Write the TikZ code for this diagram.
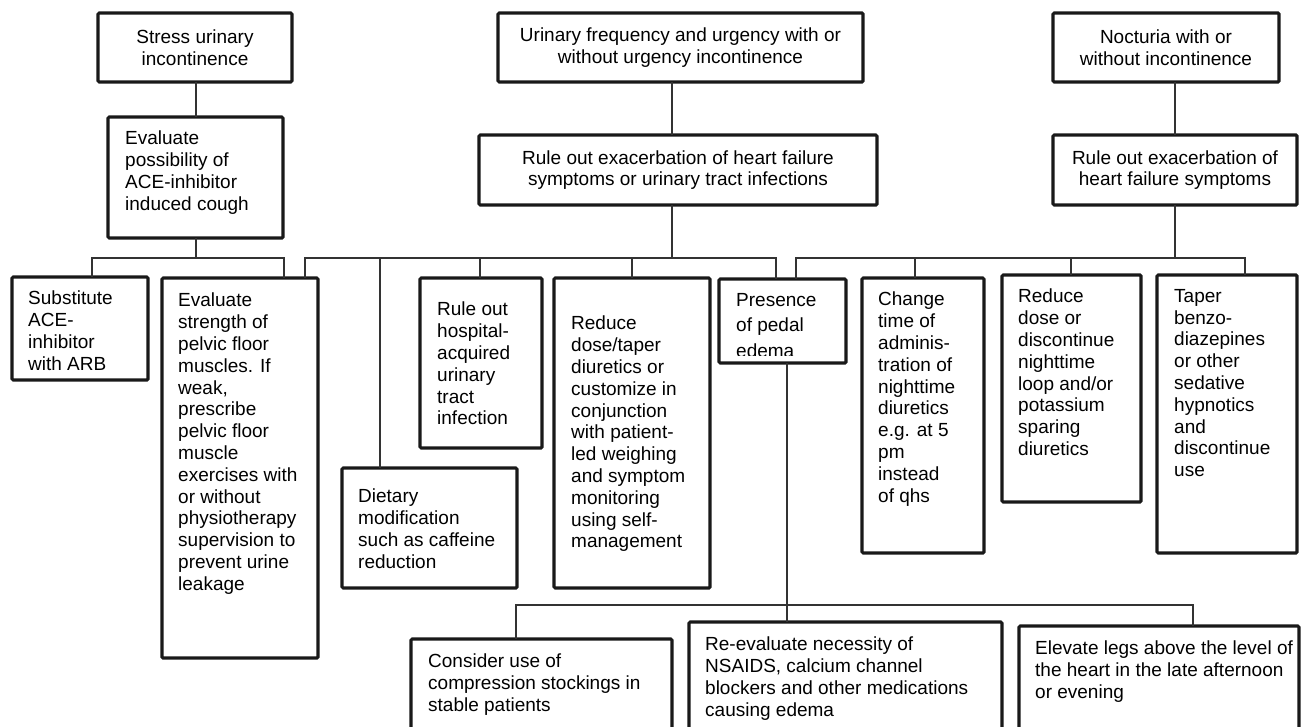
\documentclass[tikz,border=0pt]{standalone}
\usepackage{fontspec}
\setmainfont{Liberation Sans}
\usetikzlibrary{fit}
\begin{document}
\begin{tikzpicture}[x=1pt,y=-1pt,
  bx/.style={draw=black!90, line width=3.1pt, rounded corners=1.2pt, inner sep=0pt, outer sep=0pt},
  cn/.style={draw=black!80, line width=1.2pt},
  txt/.style={inner sep=0pt, align=left, anchor=north west, font=\fontsize{19}{21.8}\selectfont},
  ctxt/.style={inner sep=0pt, align=center, font=\fontsize{19}{21.8}\selectfont}]
\useasboundingbox (0,0) rectangle (1301,726);
\fill[white] (0,0) rectangle (1301,726);

% ---- boxes ----
\node[bx, fit={(98,13) (292,82)}] (stress) {};
\node[bx, fit={(498,13) (863,82)}] (urin) {};
\node[bx, fit={(1053,13) (1279,82)}] (noct) {};
\node[bx, fit={(108,117) (283,238)}] (evalposs) {};
\node[bx, fit={(479,135) (877,205)}] (ruleA) {};
\node[bx, fit={(1053,135) (1297,205)}] (ruleB) {};
\node[bx, fit={(12,277) (148,380)}] (subst) {};
\node[bx, fit={(162,278) (318,658)}] (strength) {};
\node[bx, fit={(342,468) (517,588)}] (dietary) {};
\node[bx, fit={(420,278) (542,448)}] (hospital) {};
\node[bx, fit={(554,278) (710,588)}] (taperdiur) {};
\node[bx, fit={(719,279) (846,363)}] (presence) {};
\node[bx, fit={(862,278) (984,553)}] (change) {};
\node[bx, fit={(1002,275) (1141,502)}] (reducedisc) {};
\node[bx, fit={(1157,275) (1297,553)}] (taper) {};
\node[bx, fit={(411,639) (672,730)}] (consider) {};
\node[bx, fit={(689,622) (1002,730)}] (reeval) {};
\node[bx, fit={(1019,626) (1299,730)}] (elevate) {};

% ---- texts ----
\node[ctxt] (t-stress) at (stress.center) {Stress urinary\\incontinence};
\node[ctxt] (t-urin) at (urin.center) {Urinary frequency and urgency with or\\without urgency incontinence};
\node[ctxt] (t-noct) at (noct.center) {Nocturia with or\\without incontinence};
\node[ctxt] (t-ruleA) at (ruleA.center) {Rule out exacerbation of heart failure\\symptoms or urinary tract infections};
\node[ctxt] (t-ruleB) at (ruleB.center) {Rule out exacerbation of\\heart failure symptoms};
\node[txt] (t-evalposs) at (125,131) {Evaluate\\possibility of\\ACE-inhibitor\\induced cough};
\node[txt] (t-subst) at (28,291) {Substitute\\ACE-\\inhibitor\\with ARB};
\node[txt] (t-strength) at (178,293) {Evaluate\\strength of\\pelvic floor\\muscles. If\\weak,\\prescribe\\pelvic floor\\muscle\\exercises with\\or without\\physiotherapy\\supervision to\\prevent urine\\leakage};
\node[txt] (t-dietary) at (358,489) {Dietary\\modification\\such as caffeine\\reduction};
\node[txt] (t-hospital) at (437,302) {Rule out\\hospital-\\acquired\\urinary\\tract\\infection};
\node[txt] (t-taperdiur) at (571,316) {Reduce\\dose/taper\\diuretics or\\customize in\\conjunction\\with patient-\\led weighing\\and symptom\\monitoring\\using self-\\management};
\begin{scope}
\clip (719,279) rectangle (846,355);
\node[txt, font=\fontsize{19}{25.5}\selectfont] (t-presence) at (736,293) {Presence\\of pedal\\edema};
\end{scope}
\node[txt] (t-change) at (878,292) {Change\\time of\\adminis-\\tration of\\nighttime\\diuretics\\e.g. at 5\\pm\\instead\\of qhs};
\node[txt] (t-reducedisc) at (1018,289) {Reduce\\dose or\\discontinue\\nighttime\\loop and/or\\potassium\\sparing\\diuretics};
\node[txt] (t-taper) at (1174,289) {Taper\\benzo-\\diazepines\\or other\\sedative\\hypnotics\\and\\discontinue\\use};
\node[txt] (t-consider) at (428,654) {Consider use of\\compression stockings in\\stable patients};
\node[txt] (t-reeval) at (705,637) {Re-evaluate necessity of\\NSAIDS, calcium channel\\blockers and other medications\\causing edema};
\node[txt] (t-elevate) at (1035,641) {Elevate legs above the level of\\the heart in the late afternoon\\or evening};

% ---- junction coordinates ----
\coordinate (jL) at (196,258);
\coordinate (jL1) at (92,258);
\coordinate (jL2) at (284,258);
\coordinate (jM) at (672,258);
\coordinate (jM1) at (305,258);
\coordinate (jM2) at (380,258);
\coordinate (jM3) at (480,258);
\coordinate (jM4) at (632,258);
\coordinate (jM5) at (776,258);
\coordinate (jR) at (1175,258);
\coordinate (jR1) at (796,258);
\coordinate (jR2) at (915,258);
\coordinate (jR3) at (1071,258);
\coordinate (jR4) at (1245,258);
\coordinate (jB) at (787,605);
\coordinate (jB1) at (516,605);
\coordinate (jB2) at (1193,605);

% ---- connectors ----
% left group
\draw[cn] (stress.south -| jL) -- (evalposs.north -| jL);
\draw[cn] (evalposs.south -| jL) -- (jL);
\draw[cn] (subst.north -| jL1) -- (jL1) -- (jL2) -- (strength.north -| jL2);
% middle group
\draw[cn] (urin.south -| jM) -- (ruleA.north -| jM);
\draw[cn] (ruleA.south -| jM) -- (jM);
\draw[cn] (strength.north -| jM1) -- (jM1) -- (jM5) -- (presence.north -| jM5);
\draw[cn] (jM2) -- (dietary.north -| jM2);
\draw[cn] (jM3) -- (hospital.north -| jM3);
\draw[cn] (jM4) -- (taperdiur.north -| jM4);
% right group
\draw[cn] (noct.south -| jR) -- (ruleB.north -| jR);
\draw[cn] (ruleB.south -| jR) -- (jR);
\draw[cn] (presence.north -| jR1) -- (jR1) -- (jR4) -- (taper.north -| jR4);
\draw[cn] (jR2) -- (change.north -| jR2);
\draw[cn] (jR3) -- (reducedisc.north -| jR3);
% bottom group
\draw[cn] (presence.south -| jB) -- (reeval.north -| jB);
\draw[cn] (consider.north -| jB1) -- (jB1) -- (jB2) -- (elevate.north -| jB2);
\end{tikzpicture}
\end{document}
